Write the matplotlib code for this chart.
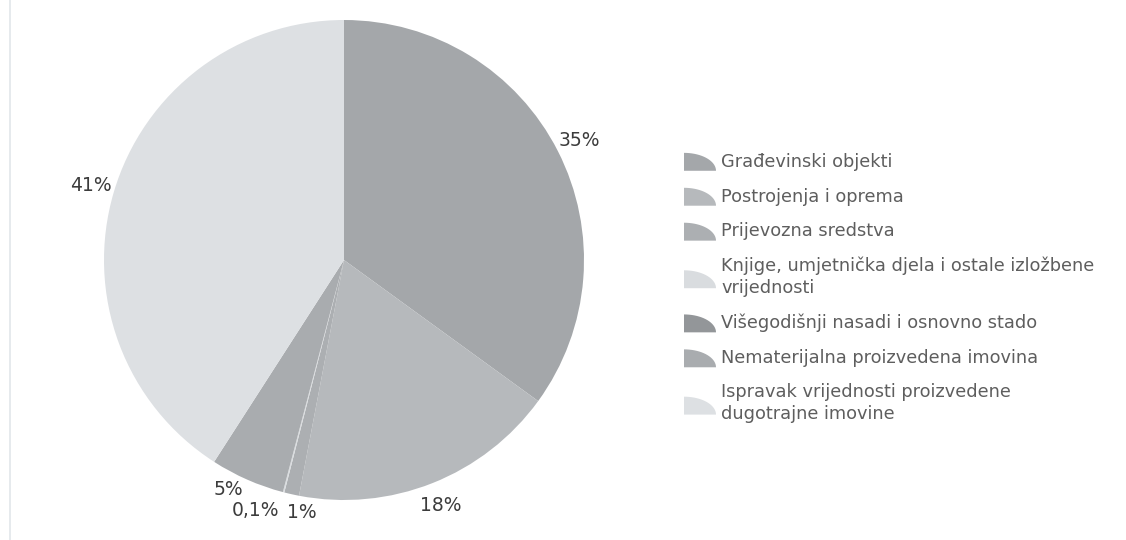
import numpy as np
import matplotlib
matplotlib.use('Agg')
import matplotlib.pyplot as plt
from matplotlib.patches import Polygon, Patch
from matplotlib.legend_handler import HandlerPatch
from matplotlib.lines import Line2D

categories = ['Građevinski objekti',
              'Postrojenja i oprema',
              'Prijevozna sredstva',
              'Knjige, umjetnička djela i ostale izložbene\nvrijednosti',
              'Višegodišnji nasadi i osnovno stado',
              'Nematerijalna proizvedena imovina',
              'Ispravak vrijednosti proizvedene\ndugotrajne imovine']
shares = [35, 18, 1, 0.1, 0, 5, 40.9]
colors = ['#a4a7aa', '#b6b9bc', '#acafb2', '#d9dcdf', '#939699', '#a9acaf', '#dde0e3']
label_ha = ['center', 'center', 'left', 'right', 'center', 'right', 'center']
label_dist = [1.1, 1.1, 1.08, 1.08, 1.08, 1.045, 1.1]


def pct_text(v):
    if v == 0:
        return ''
    if v < 1:
        return f'{v:.1f}%'.replace('.', ',')
    return f'{v:.0f}%'


class WedgeHandler(HandlerPatch):
    # quarter-pie marker like the old Excel legend
    def create_artists(self, legend, orig_handle, xdescent, ydescent,
                       width, height, fontsize, trans):
        t = np.linspace(0, np.pi / 2, 20)
        x0, y0 = -xdescent, -ydescent - 0.1 * height
        pts = [(x0, y0)] + [(x0 + width * np.sin(a), y0 + height * 1.05 * np.cos(a)) for a in t]
        p = Polygon(pts, closed=True, facecolor=orig_handle.get_facecolor(),
                    edgecolor='none', transform=trans)
        return [p]


fig = plt.figure(figsize=(11.26, 5.4), dpi=100)
fig.patch.set_facecolor('white')

ax = fig.add_axes([(344 - 240) / 1126, (540 - 260 - 240) / 540, 480 / 1126, 480 / 540])
wedges, _ = ax.pie(shares, colors=colors, startangle=90, counterclock=False,
                   radius=1.0, wedgeprops=dict(linewidth=0))
ax.set_xlim(-1, 1)
ax.set_ylim(-1, 1)
ax.axis('off')

# data labels outside the rim
for w, v, ha, d in zip(wedges, shares, label_ha, label_dist):
    lab = pct_text(v)
    if not lab:
        continue
    mid = np.deg2rad((w.theta1 + w.theta2) / 2)
    ax.text(d * np.cos(mid), d * np.sin(mid), lab, ha=ha, va='center',
            fontsize=13.5, color='#3c3c3c', clip_on=False)

handles = [Patch(facecolor=c) for c in colors]
leg = fig.legend(handles, categories, loc='upper left',
                 bbox_to_anchor=(684 / 1126, 1 - 152 / 540),
                 frameon=False, fontsize=12.8, handlelength=1.8, handleheight=1.1,
                 handletextpad=0.3, labelspacing=0.92, borderpad=0,
                 borderaxespad=0, handler_map={Patch: WedgeHandler()})
for t in leg.get_texts():
    t.set_color('#5e5e5e')
    t.set_linespacing(1.28)

# faint chart border on the left
fig.add_artist(Line2D([10 / 1126, 10 / 1126], [0, 1], color='#e2e6ea', lw=1.2))

fig.savefig('out.png', dpi=100)
